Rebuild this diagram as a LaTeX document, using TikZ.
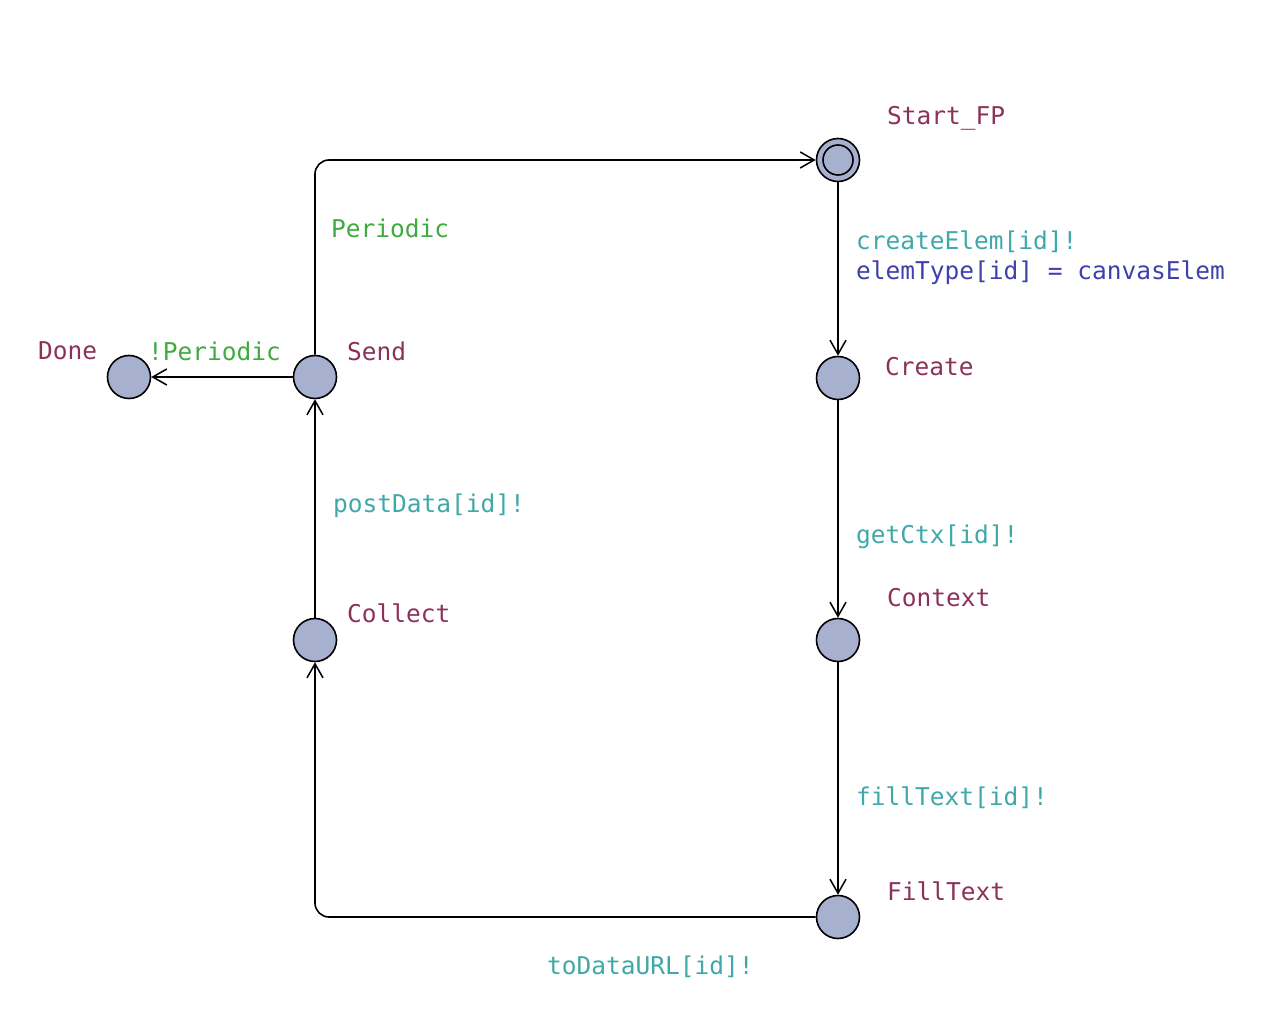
\documentclass[tikz,border=0pt]{standalone}
\usepackage{fontspec}
\setmonofont{DejaVu Sans Mono}
\usetikzlibrary{arrows.meta}
\definecolor{locfill}{RGB}{168,176,207}
\definecolor{namecol}{RGB}{140,50,90}
\definecolor{guardcol}{RGB}{64,170,64}
\definecolor{synccol}{RGB}{64,168,168}
\definecolor{updcol}{RGB}{64,64,170}
\begin{document}
\begin{tikzpicture}[x=1pt,y=-1pt,
  loc/.style={circle,draw=black,line width=1.6pt,fill=locfill,minimum size=43pt,inner sep=0pt},
  lbl/.style={anchor=west,inner sep=0pt,font=\ttfamily\fontsize{24.5}{30}\selectfont},
  lname/.style={lbl,text=namecol},
  lguard/.style={lbl,text=guardcol},
  lsync/.style={lbl,text=synccol},
  lupd/.style={lbl,text=updcol},
  edge/.style={draw=black,line width=1.6pt,-{Straight Barb[length=14pt,width=16pt,line width=1.5pt]},rounded corners=14pt}]
\useasboundingbox (0,0) rectangle (1286,1032);
\node[loc] (start) at (838,160) {};
\draw[line width=1.6pt] (start.center) circle (15pt);
\node[loc] (create) at (838,378) {};
\node[loc] (context) at (838,640) {};
\node[loc] (filltext) at (838,917) {};
\node[loc] (collect) at (315,640) {};
\node[loc] (send) at (315,377) {};
\node[loc] (done) at (129,377) {};
\coordinate (c1) at (315,160);
\coordinate (c2) at (315,917);
\draw[edge] (send.north) -- (c1) -- (start.west);
\draw[edge] (start) -- (create);
\draw[edge] (create) -- (context);
\draw[edge] (context) -- (filltext);
\draw[edge] (filltext.west) -- (c2) -- (collect.south);
\draw[edge] (collect) -- (send);
\draw[edge] (send) -- (done);
\node[lname] (n1) at (887,118) {Start\_FP};
\node[lname] (n2) at (885,367) {Create};
\node[lname] (n3) at (887,598) {Context};
\node[lname] (n4) at (887,891) {FillText};
\node[lname] (n5) at (347,613) {Collect};
\node[lname] (n6) at (347,351) {Send};
\node[lname] (n7) at (38,351) {Done};
\node[lsync] (s1) at (856,242) {createElem[id]!};
\node[lupd] (u1) at (856,273) {elemType[id] = canvasElem};
\node[lsync] (s2) at (856,537) {getCtx[id]!};
\node[lsync] (s3) at (856,798) {fillText[id]!};
\node[lsync] (s4) at (547,967) {toDataURL[id]!};
\node[lsync] (s5) at (333,506) {postData[id]!};
\node[lguard] (g1) at (331,228) {Periodic};
\node[lguard] (g2) at (148,351) {!Periodic};
\end{tikzpicture}
\end{document}
